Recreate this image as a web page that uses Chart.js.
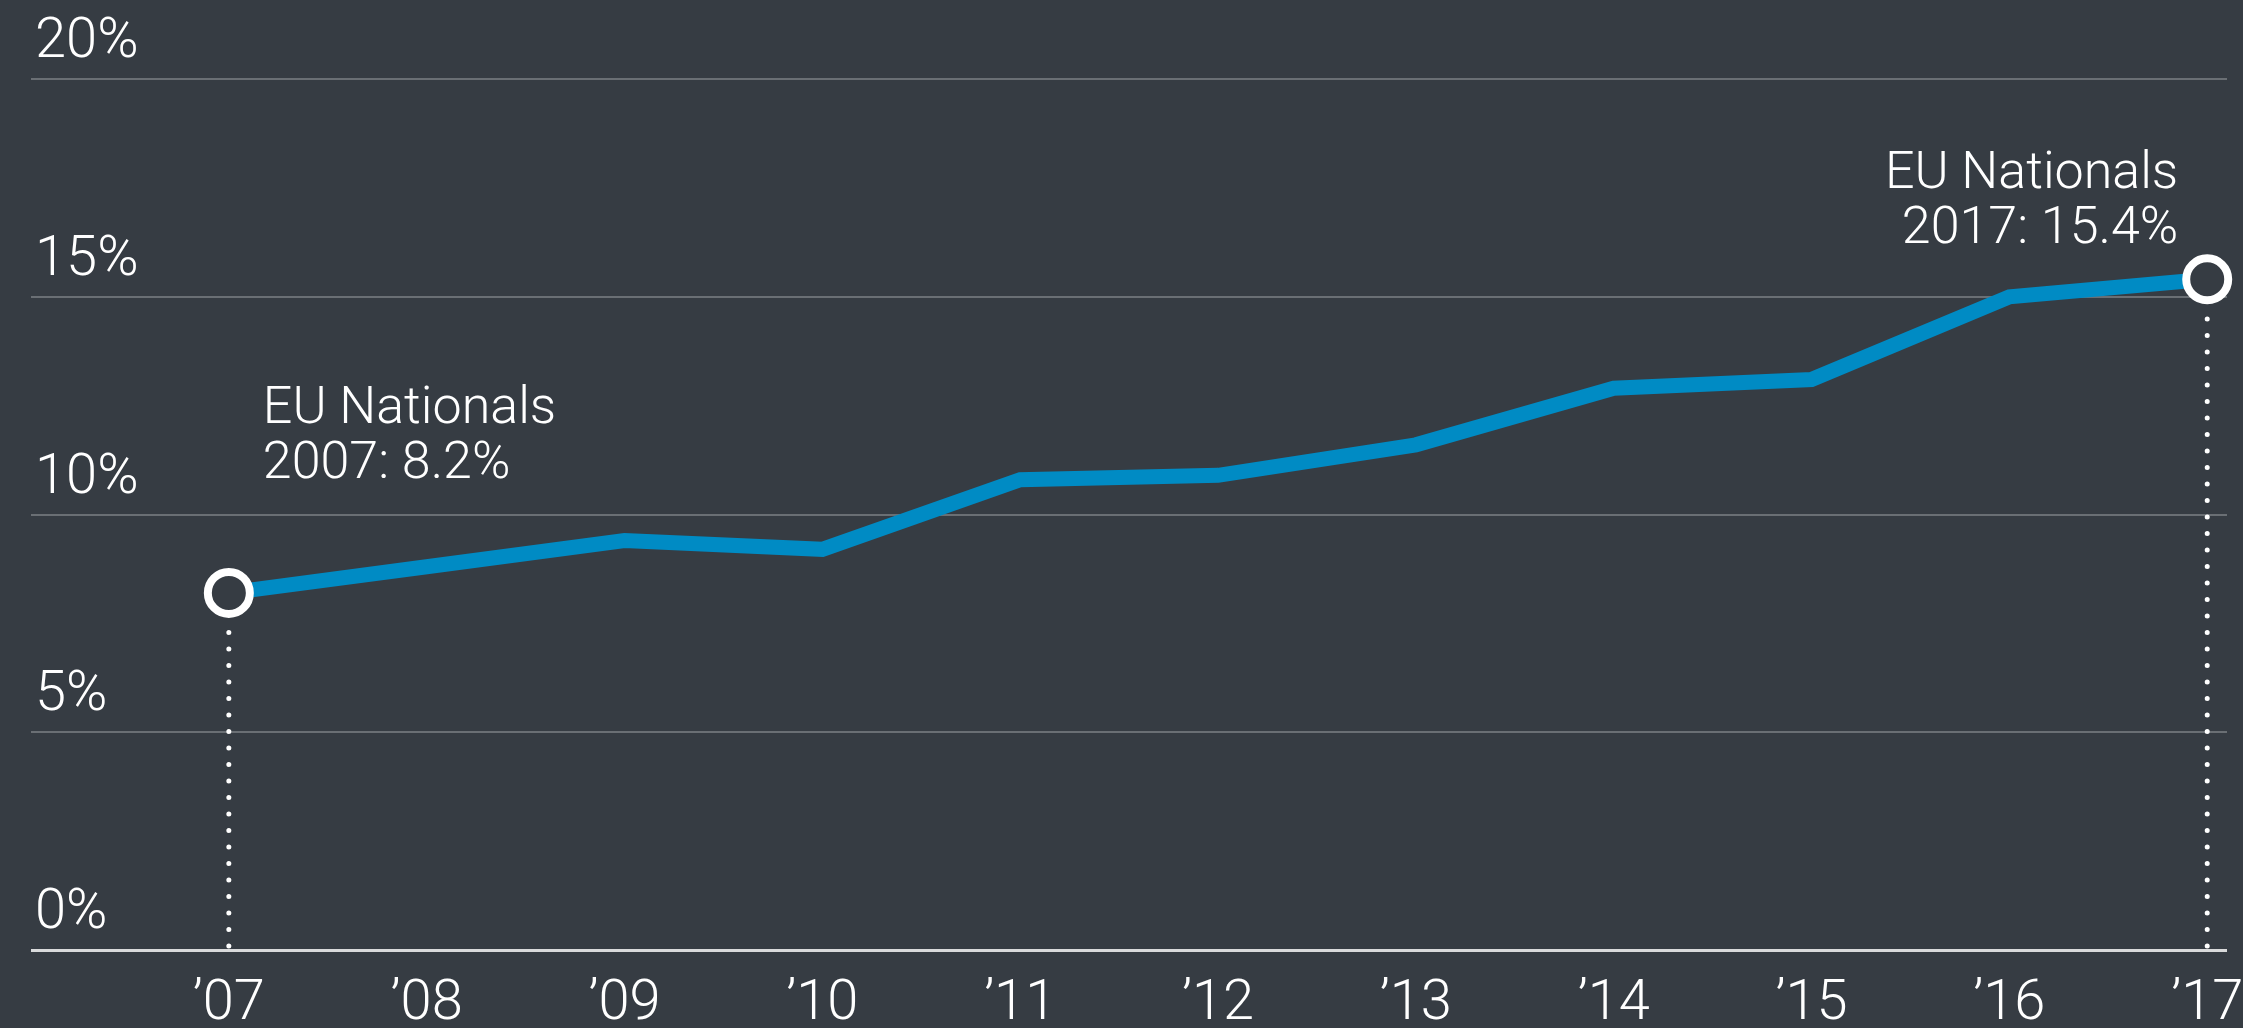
<!DOCTYPE html>
<html>
<head>
<meta charset="utf-8">
<script src="https://cdn.jsdelivr.net/npm/chart.js@4.4.0/dist/chart.umd.min.js"></script>
<style>
html, body { margin: 0; padding: 0; background: #363c43; overflow: hidden; }
#wrap { width: 2243px; height: 1028px; }
</style>
</head>
<body>
<div id="wrap"><canvas id="chart" width="2243" height="1028"></canvas></div>
<script>
// data
const years = [2007, 2008, 2009, 2010, 2011, 2012, 2013, 2014, 2015, 2016, 2017];
const euShare = [8.2, 8.8, 9.4, 9.2, 10.8, 10.9, 11.6, 12.9, 13.1, 15.0, 15.4];
const yTicks = [0, 5, 10, 15, 20];
const seriesName = 'EU Nationals';

const bg = '#363c43';
const blue = '#008bc4';
const fontFamily = 'Roboto, "Open Sans", sans-serif';

Chart.defaults.font.family = fontFamily;
Chart.defaults.font.weight = '300';
Chart.defaults.color = '#ffffff';

const lastIdx = years.length - 1;

// dotted drop lines + text next to the first and last points
const annotate = {
    id: 'annotate',
    beforeDatasetsDraw(chart) {
        const { ctx, chartArea, scales: { x, y } } = chart;
        ctx.save();
        ctx.strokeStyle = '#ffffff';
        ctx.lineWidth = 5;
        ctx.lineCap = 'round';
        ctx.setLineDash([0, 16.5]);
        [0, lastIdx].forEach(i => {
            const px = x.getPixelForValue(years[i]);
            const py = y.getPixelForValue(euShare[i]);
            ctx.beginPath();
            ctx.moveTo(px, chartArea.bottom - 4);
            ctx.lineTo(px, py + 30);
            ctx.stroke();
        });
        ctx.restore();
    },
    afterDatasetsDraw(chart) {
        const { ctx, scales: { x, y } } = chart;
        ctx.save();
        ctx.fillStyle = '#ffffff';
        ctx.font = '300 52px ' + fontFamily;
        ctx.textBaseline = 'middle';

        let px = x.getPixelForValue(years[0]);
        let py = y.getPixelForValue(euShare[0]);
        ctx.textAlign = 'left';
        ctx.fillText(seriesName, px + 34, py - 183);
        ctx.fillText(years[0] + ': ' + euShare[0].toFixed(1) + '%', px + 34, py - 128);

        px = x.getPixelForValue(years[lastIdx]);
        py = y.getPixelForValue(euShare[lastIdx]);
        ctx.textAlign = 'right';
        ctx.fillText(seriesName, px - 29, py - 104);
        ctx.fillText(years[lastIdx] + ': ' + euShare[lastIdx].toFixed(1) + '%', px - 29, py - 49);
        ctx.restore();
    }
};

new Chart(document.getElementById('chart'), {
    type: 'line',
    data: {
        datasets: [{
            label: seriesName,
            data: years.map((yr, i) => ({ x: yr, y: euShare[i] })),
            borderColor: blue,
            borderWidth: 15,
            borderJoinStyle: 'miter',
            tension: 0,
            fill: false,
            clip: false,
            pointRadius: c => (c.dataIndex === 0 || c.dataIndex === lastIdx) ? 21 : 0,
            pointHoverRadius: c => (c.dataIndex === 0 || c.dataIndex === lastIdx) ? 21 : 0,
            pointBackgroundColor: bg,
            pointBorderColor: '#ffffff',
            pointBorderWidth: 8
        }]
    },
    options: {
        responsive: false,
        animation: false,
        events: [],
        layout: {
            autoPadding: false,
            padding: { top: 79, left: 31, right: 16, bottom: 0 }
        },
        plugins: {
            legend: { display: false },
            tooltip: { enabled: false }
        },
        scales: {
            x: {
                type: 'linear',
                min: 2006,
                max: 2017.1,
                afterBuildTicks: scale => { scale.ticks = years.map(v => ({ value: v })); },
                afterFit: scale => {
                    scale.height = 78;
                    scale.paddingLeft = 0;
                    scale.paddingRight = 0;
                },
                grid: { display: false, drawTicks: false },
                border: { display: false },
                ticks: {
                    padding: 27,
                    font: { size: 56, lineHeight: 1 },
                    color: '#ffffff',
                    maxRotation: 0,
                    autoSkip: false,
                    callback: v => '\u2019' + String(v).slice(2)
                }
            },
            y: {
                min: 0,
                max: 20,
                afterBuildTicks: scale => { scale.ticks = yTicks.map(v => ({ value: v })); },
                afterFit: scale => {
                    scale.width = 0;
                    scale.paddingTop = 0;
                    scale.paddingBottom = 0;
                },
                grid: {
                    drawTicks: false,
                    color: c => (c.tick && c.tick.value === 0) ? '#d9dadb' : '#6a6f74',
                    lineWidth: c => (c.tick && c.tick.value === 0) ? 3 : 2
                },
                border: { display: false },
                ticks: {
                    mirror: true,
                    padding: 4,
                    labelOffset: -36,
                    font: { size: 56, lineHeight: 1 },
                    color: '#ffffff',
                    callback: v => v + '%'
                }
            }
        }
    },
    plugins: [annotate]
});
</script>
</body>
</html>
